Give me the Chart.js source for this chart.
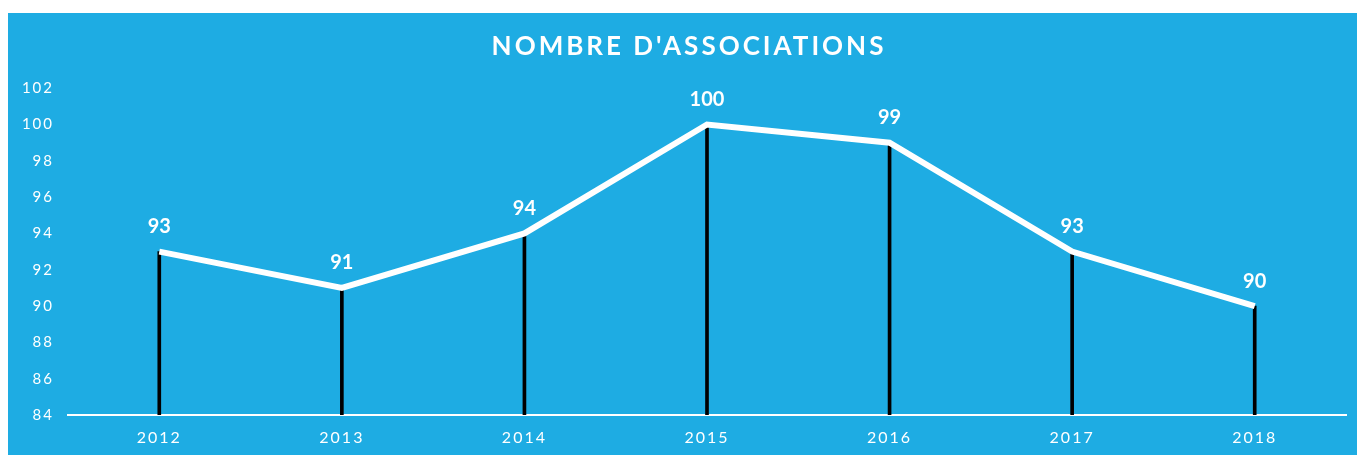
<!DOCTYPE html>
<html>
<head>
<meta charset="utf-8">
<script src="https://cdn.jsdelivr.net/npm/chart.js@4"></script>
<style>
html,body{margin:0;padding:0;background:#fff;}
#wrap{position:absolute;left:8px;top:13px;width:1349px;height:442px;background:#1EACE3;}
</style>
</head>
<body>
<div id="wrap"><canvas id="c" width="1349" height="442"></canvas></div>
<script>
const categories = ['2012','2013','2014','2015','2016','2017','2018'];
const associations = [93, 91, 94, 100, 99, 93, 90];
const yTicks = [84, 86, 88, 90, 92, 94, 96, 98, 100, 102];
const titleText = "NOMBRE D'ASSOCIATIONS";

const FONT = "Lato, 'Open Sans', sans-serif";

const spacingPlugin = {
  id: 'spacing',
  beforeDraw(chart) { chart.ctx.letterSpacing = '2px'; },
  afterLayout(chart) {
    const tb = chart.titleBlock;
    if (tb && !tb._wrapped) {
      const orig = tb.draw;
      tb.draw = function() {
        const ctx = chart.ctx;
        ctx.save();
        ctx.letterSpacing = '3px';
        ctx.translate(12, 0);
        orig.apply(this, arguments);
        ctx.restore();
      };
      tb._wrapped = true;
    }
  }
};

const labelPlugin = {
  id: 'valueLabels',
  afterDatasetsDraw(chart) {
    const ctx = chart.ctx;
    const meta = chart.getDatasetMeta(1);
    ctx.save();
    ctx.letterSpacing = '0px';
    ctx.fillStyle = '#fff';
    ctx.font = "bold 20px " + FONT;
    ctx.textAlign = 'center';
    ctx.textBaseline = 'middle';
    meta.data.forEach((pt, i) => {
      ctx.fillText(String(associations[i]), pt.x, pt.y - 25);
    });
    ctx.restore();
  }
};

new Chart(document.getElementById('c'), {
  data: {
    labels: categories,
    datasets: [
      {
        type: 'bar',
        data: associations,
        backgroundColor: '#000',
        barThickness: 3,
        order: 2
      },
      {
        type: 'line',
        data: associations,
        borderColor: '#fff',
        borderWidth: 6,
        pointRadius: 0,
        tension: 0,
        fill: false,
        order: 1
      }
    ]
  },
  options: {
    responsive: false,
    animation: false,
    events: [],
    layout: { padding: { left: 0, right: 11, top: 0, bottom: 0 } },
    plugins: {
      legend: { display: false },
      tooltip: { enabled: false },
      title: {
        display: true,
        text: titleText,
        color: '#fff',
        font: { family: FONT, size: 26, weight: 'bold', lineHeight: 1.2 },
        padding: { top: 18, bottom: 26 }
      }
    },
    scales: {
      x: {
        offset: true,
        grid: { display: false, drawTicks: false },
        border: { display: true, color: '#fff', width: 2 },
        ticks: { color: '#fff', font: { family: FONT, size: 16 }, padding: 13 },
        afterFit(s) { s.height = 40; }
      },
      y: {
        min: 84,
        max: 102,
        grid: { display: false, drawTicks: false },
        border: { display: false },
        afterBuildTicks(s) { s.ticks = yTicks.map(v => ({ value: v })); },
        ticks: { color: '#fff', font: { family: FONT, size: 15 }, padding: 14 },
        afterFit(s) { s.width = 60; }
      }
    }
  },
  plugins: [spacingPlugin, labelPlugin]
});
</script>
</body>
</html>
